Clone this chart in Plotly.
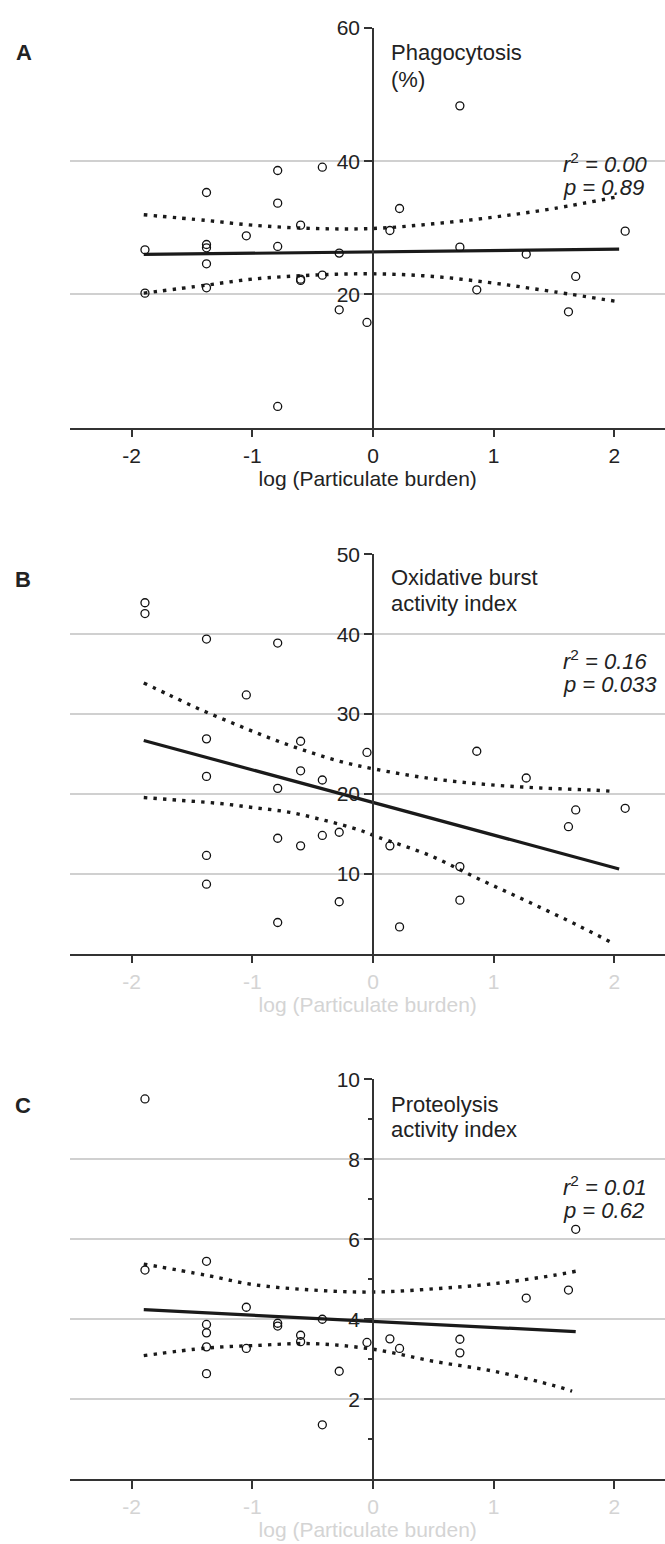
import plotly.graph_objects as go

W, H = 665, 1544

# ---------------- data ----------------
x_ticks = [-2, -1, 0, 1, 2]
x_ticklabels = ["-2", "-1", "0", "1", "2"]
x_title = "log (Particulate burden)"

# Panel A: Phagocytosis (%)
phago_x = [-1.89, -1.89, -1.38, -1.38, -1.38, -1.38, -1.38, -1.05,
           -0.79, -0.79, -0.79, -0.79, -0.60, -0.60, -0.60, -0.42, -0.42,
           -0.28, -0.28, -0.05, 0.14, 0.22, 0.72, 0.72, 0.86, 1.27, 1.62,
           1.68, 2.09]
phago_y = [26.7, 20.2, 35.3, 27.5, 27.0, 24.6, 21.0, 28.8,
           38.6, 33.7, 27.2, 3.2, 30.4, 22.3, 22.1, 39.1, 22.9,
           26.2, 17.7, 15.8, 29.6, 32.9, 48.3, 27.1, 20.7, 26.05, 17.4,
           22.7, 29.5]
phago_fit_x = [-1.9, 2.04]
phago_fit_y = [26.0, 26.8]
phago_up_x = [-1.9, -1.38, -1.0, -0.5, 0.0, 0.5, 1.0, 1.5, 2.04]
phago_up_y = [31.96, 31.1, 30.4, 29.9, 29.9, 30.6, 31.6, 32.9, 34.7]
phago_lo_x = [-1.9, -1.38, -1.0, -0.5, 0.0, 0.5, 1.0, 1.5, 2.04]
phago_lo_y = [20.2, 21.4, 22.3, 22.9, 23.1, 22.7, 21.7, 20.4, 18.9]
phago_yticks = [20, 40, 60]

# Panel B: Oxidative burst activity index
oxid_x = [-1.89, -1.89, -1.38, -1.38, -1.38, -1.38, -1.38, -1.05,
          -0.79, -0.79, -0.79, -0.79, -0.60, -0.60, -0.60, -0.42, -0.42,
          -0.28, -0.28, -0.05, 0.14, 0.22, 0.72, 0.72, 0.86, 1.27, 1.62,
          1.68, 2.09]
oxid_y = [43.95, 42.6, 39.4, 26.9, 22.2, 12.3, 8.7, 32.4,
          38.9, 20.7, 14.45, 3.9, 26.6, 22.9, 13.5, 21.75, 14.8,
          15.2, 6.5, 25.2, 13.5, 3.35, 10.9, 6.7, 25.35, 22.0, 15.9,
          18.0, 18.2]
oxid_fit_x = [-1.9, 2.04]
oxid_fit_y = [26.7, 10.6]
oxid_up_x = [-1.9, -1.69, -1.42, -1.135, -0.855, -0.577, -0.28, 0.02,
             0.47, 0.93, 1.385, 1.84, 2.0]
oxid_up_y = [33.9, 32.4, 30.5, 28.7, 27.0, 25.5, 24.1, 23.1,
             21.95, 21.2, 20.75, 20.47, 20.3]
oxid_lo_x = [-1.9, -1.6, -1.3, -0.995, -0.69, -0.39, -0.116, 0.04,
             0.47, 0.887, 1.3, 1.716, 1.99]
oxid_lo_y = [19.55, 19.2, 18.85, 18.3, 17.7, 16.65, 15.5, 14.6,
             12.3, 9.28, 6.4, 3.4, 1.28]
oxid_yticks = [10, 20, 30, 40, 50]

# Panel C: Proteolysis activity index
prot_x = [-1.89, -1.89, -1.38, -1.38, -1.38, -1.38, -1.38, -1.05, -1.05,
          -0.79, -0.79, -0.60, -0.60, -0.42, -0.42, -0.28, -0.05, 0.14,
          0.22, 0.72, 0.72, 1.27, 1.62, 1.68]
prot_y = [9.51, 5.23, 5.45, 3.87, 3.66, 3.31, 2.64, 4.30, 3.27,
          3.90, 3.83, 3.60, 3.44, 4.00, 1.36, 2.70, 3.42, 3.51,
          3.27, 3.50, 3.16, 4.53, 4.73, 6.25]
prot_fit_x = [-1.9, 1.68]
prot_fit_y = [4.24, 3.69]
prot_up_x = [-1.9, -1.38, -1.0, -0.5, 0.0, 0.5, 1.0, 1.5, 1.68]
prot_up_y = [5.38, 5.10, 4.87, 4.73, 4.68, 4.76, 4.89, 5.10, 5.20]
prot_lo_x = [-1.9, -1.38, -1.0, -0.5, 0.0, 0.5, 1.0, 1.5, 1.65]
prot_lo_y = [3.09, 3.28, 3.34, 3.39, 3.25, 2.95, 2.70, 2.34, 2.20]
prot_yticks = [2, 4, 6, 8, 10]
prot_minor = [1, 3, 5, 7, 9]

panel_letters = ["A", "B", "C"]
panel_titles = [["Phagocytosis", "(%)"],
                ["Oxidative burst", "activity index"],
                ["Proteolysis", "activity index"]]
panel_stats = [["0.00", "0.89"], ["0.16", "0.033"], ["0.01", "0.62"]]

# ---------------- layout geometry (pixels) ----------------
FONT = "Liberation Sans, Arial, Helvetica, sans-serif"
DARK = "#222222"
AXC = "#333333"
LIGHT = "#d4d4d4"
GRID = "#d0d0d0"

x_left_px = 70.4
x_range = [-2.508, 2.42]
x0_px = 373.0  # pixel position of x = 0
panels_px = [(16.0, 419.0), (546.7, 949.0), (1075.7, 1478.7)]  # (top, bottom)
y_ranges = [[0, 60], [0, 50], [0, 10]]


def px(xp):
    return xp / W


def py(yp):
    return 1 - yp / H


fig = go.Figure()

datasets = [
    (phago_x, phago_y, phago_fit_x, phago_fit_y, phago_up_x, phago_up_y, phago_lo_x, phago_lo_y),
    (oxid_x, oxid_y, oxid_fit_x, oxid_fit_y, oxid_up_x, oxid_up_y, oxid_lo_x, oxid_lo_y),
    (prot_x, prot_y, prot_fit_x, prot_fit_y, prot_up_x, prot_up_y, prot_lo_x, prot_lo_y),
]

dot_style = dict(color="#1a1a1a", width=3.4, dash="3.4px,6.2px", shape="spline", smoothing=1.0)

for i, (sx, sy, fx, fy, ux, uy, lx, ly) in enumerate(datasets):
    xa = "x" if i == 0 else f"x{i+1}"
    ya = "y" if i == 0 else f"y{i+1}"
    fig.add_trace(go.Scatter(x=ux, y=uy, mode="lines", line=dot_style,
                             xaxis=xa, yaxis=ya, hoverinfo="skip"))
    fig.add_trace(go.Scatter(x=lx, y=ly, mode="lines", line=dot_style,
                             xaxis=xa, yaxis=ya, hoverinfo="skip"))
    fig.add_trace(go.Scatter(x=fx, y=fy, mode="lines",
                             line=dict(color="#1a1a1a", width=3.2),
                             xaxis=xa, yaxis=ya, hoverinfo="skip"))
    fig.add_trace(go.Scatter(x=sx, y=sy, mode="markers",
                             marker=dict(symbol="circle-open", size=8, color="#111111",
                                         line=dict(width=1.3)),
                             xaxis=xa, yaxis=ya))

yticks_all = [phago_yticks, oxid_yticks, prot_yticks]
layout = dict(
    width=W, height=H,
    margin=dict(l=0, r=0, t=0, b=0),
    paper_bgcolor="white", plot_bgcolor="white",
    showlegend=False,
    font=dict(family=FONT, size=21, color=DARK),
)

ypos = px(x0_px)
for i in range(3):
    top, bot = panels_px[i]
    xkey = "xaxis" if i == 0 else f"xaxis{i+1}"
    ykey = "yaxis" if i == 0 else f"yaxis{i+1}"
    xa_anchor = "y" if i == 0 else f"y{i+1}"
    tick_col = DARK if i == 0 else LIGHT
    layout[xkey] = dict(
        domain=[px(x_left_px), 1.0], anchor=xa_anchor, range=x_range,
        tickmode="array", tickvals=x_ticks, ticktext=x_ticklabels,
        showline=True, linecolor=AXC, linewidth=1.5,
        ticks="outside", ticklen=8, tickwidth=1.5, tickcolor=AXC,
        showgrid=False, zeroline=False,
        tickfont=dict(family=FONT, size=21, color=tick_col),
        title=dict(text=x_title, font=dict(family=FONT, size=21, color=tick_col), standoff=4),
    )
    yax = dict(
        domain=[py(bot), py(top)], anchor="free", position=ypos,
        range=y_ranges[i], tickmode="array", tickvals=yticks_all[i],
        showline=True, linecolor=AXC, linewidth=1.5,
        ticks="outside", ticklen=8, tickwidth=1.5, tickcolor=AXC,
        showgrid=True, gridcolor=GRID, gridwidth=2, zeroline=False,
        tickfont=dict(family=FONT, size=21, color=DARK),
    )
    if i == 2:
        yax["minor"] = dict(tickmode="array", tickvals=prot_minor, ticks="outside",
                            ticklen=4, tickwidth=1.5, tickcolor=AXC, showgrid=False)
    layout[ykey] = yax

fig.update_layout(**layout)

# annotations
letter_pos = [(24, 41), (23, 572), (23, 1102)]
title_pos = [(41, 68), (570, 596), (1101, 1126)]
stat_pos = [(152, 177), (653, 678), (1183, 1208)]
ann = []
for i in range(3):
    lx_, ly_ = letter_pos[i]
    ann.append(dict(x=px(lx_), y=py(ly_), xref="paper", yref="paper",
                    text=f"<b>{panel_letters[i]}</b>", showarrow=False,
                    xanchor="center", yanchor="middle",
                    font=dict(family=FONT, size=22, color=DARK)))
    for j, line in enumerate(panel_titles[i]):
        ann.append(dict(x=px(389), y=py(title_pos[i][j]), xref="paper", yref="paper",
                        text=line, showarrow=False, xanchor="left", yanchor="middle",
                        font=dict(family=FONT, size=22, color=DARK)))
    r2, pv = panel_stats[i]
    ann.append(dict(x=px(561), y=py(stat_pos[i][0]), xref="paper", yref="paper",
                    text=f"<i>r</i><sup>2</sup><i> = {r2}</i>", showarrow=False,
                    xanchor="left", yanchor="middle",
                    font=dict(family=FONT, size=22, color=DARK)))
    ann.append(dict(x=px(561), y=py(stat_pos[i][1]), xref="paper", yref="paper",
                    text=f"<i>p = {pv}</i>", showarrow=False,
                    xanchor="left", yanchor="middle",
                    font=dict(family=FONT, size=22, color=DARK)))
fig.update_layout(annotations=ann)

fig.write_html("out.html",
               config={"displayModeBar": False},
               post_script="document.body.style.margin='0px';document.body.style.padding='0px';")
